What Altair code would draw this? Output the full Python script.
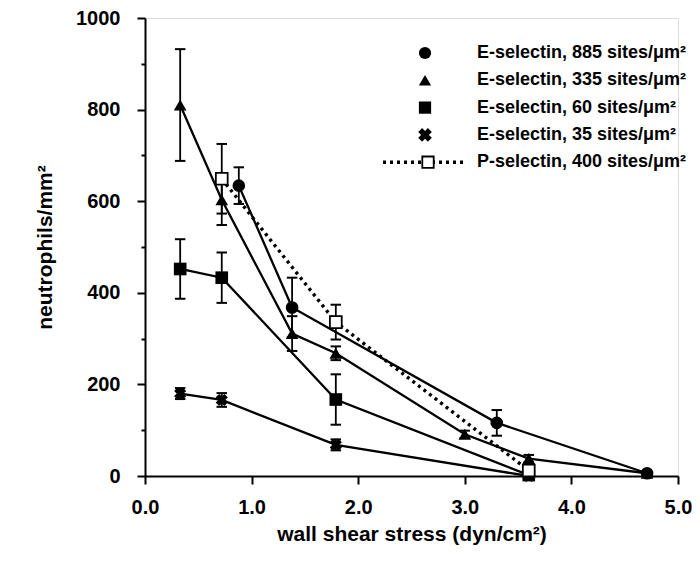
import altair as alt
import pandas as pd

# ---- data ----
series_names = [
    "E-selectin, 885 sites/μm²",
    "E-selectin, 335 sites/μm²",
    "E-selectin, 60 sites/μm²",
    "E-selectin, 35 sites/μm²",
    "P-selectin, 400 sites/μm²",
]
series_shapes = ["circle", "triangle-up", "square", "cross", "square"]

e885_x = [0.88, 1.38, 3.3, 4.71]
e885_y = [634, 368, 116, 6]
e885_err = [40, 65, 28, 0]

e335_x = [0.33, 0.72, 1.38, 1.79, 3.0, 3.6, 4.71]
e335_y = [810, 603, 311, 268, 91, 38, 6]
e335_err = [122, 55, 38, 15, 8, 8, 0]

e60_x = [0.33, 0.72, 1.79, 3.6]
e60_y = [452, 433, 167, 2]
e60_err = [65, 55, 55, 0]

e35_x = [0.33, 0.72, 1.79, 3.6]
e35_y = [180, 166, 68, 0]
e35_err = [12, 15, 12, 0]

p400_x = [0.72, 1.79, 3.6]
p400_y = [649, 336, 12]
p400_err = [76, 38, 0]

x_ticks = [0, 1, 2, 3, 4, 5]
y_ticks = list(range(0, 1001, 100))

rows = []
for name, xs, ys, es in zip(
    series_names,
    [e885_x, e335_x, e60_x, e35_x, p400_x],
    [e885_y, e335_y, e60_y, e35_y, p400_y],
    [e885_err, e335_err, e60_err, e35_err, p400_err],
):
    for x, y, e in zip(xs, ys, es):
        rows.append({"series": name, "x": x, "y": y, "lo": y - e, "hi": y + e, "err": e})
df = pd.DataFrame(rows)

leg = pd.DataFrame({"label": series_names, "row": list(range(len(series_names))),
                    "shape": series_shapes})

FONT = "Liberation Sans"
xscale = alt.Scale(domain=[0, 5], nice=False, zero=False)
yscale = alt.Scale(domain=[0, 1000], nice=False)

X = alt.X("x:Q", scale=xscale, title="wall shear stress (dyn/cm²)",
          axis=alt.Axis(values=x_ticks, format=".1f", grid=False, tickSize=8,
                        tickWidth=2, domainWidth=2, domainColor="black", tickColor="black",
                        labelFont=FONT, labelFontWeight="bold", labelFontSize=20,
                        labelColor="black", labelPadding=13, labelFlush=False,
                        titleFont=FONT, titleFontWeight="bold", titleFontSize=21,
                        titleColor="black", titlePadding=6))
Y = alt.Y("y:Q", scale=yscale, title="neutrophils/mm²",
          axis=alt.Axis(values=y_ticks, grid=False, format="d",
                        labelExpr="datum.value % 200 === 0 ? datum.label : ''",
                        tickSize={"expr": "datum.value % 200 === 0 ? 8 : 4"},
                        tickWidth=2, domainWidth=2, domainColor="black", tickColor="black",
                        labelFont=FONT, labelFontWeight="bold", labelFontSize=20,
                        labelColor="black", labelPadding=17, labelFlush=False,
                        titleFont=FONT, titleFontWeight="bold", titleFontSize=21,
                        titleColor="black", titlePadding=20))

base = alt.Chart(df)
esel = base.transform_filter("indexof(datum.series, 'E-') === 0")
psel = base.transform_filter("indexof(datum.series, 'P-') === 0")
witherr = base.transform_filter("datum.err > 0")

lines = esel.mark_line(color="black", strokeWidth=2.3).encode(x=X, y=Y, detail="series:N")
pline = psel.mark_line(color="black", strokeWidth=3.4, strokeDash=[3, 4]).encode(x=X, y=Y)

ebar = witherr.mark_rule(color="black", strokeWidth=1.8).encode(
    x="x:Q", y="lo:Q", y2="hi:Q")
cap_hi = witherr.mark_point(shape="M-1,0L1,0", filled=False, color="black",
                            strokeWidth=2, size=110, opacity=1).encode(x="x:Q", y="hi:Q")
cap_lo = witherr.mark_point(shape="M-1,0L1,0", filled=False, color="black",
                            strokeWidth=2, size=110, opacity=1).encode(x="x:Q", y="lo:Q")

shape_scale = alt.Scale(domain=series_names[:3], range=series_shapes[:3])
pts = esel.transform_filter("datum.series !== '%s'" % series_names[3]).mark_point(
    filled=True, color="black", size=160, opacity=1).encode(
    x="x:Q", y="y:Q", shape=alt.Shape("series:N", scale=shape_scale, legend=None))
xpts = base.transform_filter("datum.series === '%s'" % series_names[3]).mark_point(
    shape="cross", angle=45, filled=True, color="black", size=150, opacity=1).encode(
    x="x:Q", y="y:Q")
ppts = psel.mark_point(shape="square", filled=False, fill="white", color="black",
                       strokeWidth=1.8, size=140, opacity=1).encode(x="x:Q", y="y:Q")

# ---- custom legend (pixel positions inside plot area) ----
lbase = alt.Chart(leg).transform_calculate(ly="35 + datum.row * 27.3")
ltext = lbase.mark_text(align="left", baseline="middle", font=FONT, fontWeight="bold",
                        fontSize=18, color="black").encode(
    x=alt.value(332), y=alt.Y("ly:Q", scale=None), text="label:N")
lsym = lbase.transform_filter("datum.row < 3").mark_point(
    filled=True, color="black", size=150, opacity=1).encode(
    x=alt.value(280), y=alt.Y("ly:Q", scale=None),
    shape=alt.Shape("label:N", scale=shape_scale, legend=None))
lx = lbase.transform_filter("datum.row === 3").mark_point(
    shape="cross", angle=45, filled=True, color="black", size=190, opacity=1).encode(
    x=alt.value(280), y=alt.Y("ly:Q", scale=None))
ldash = lbase.transform_filter("datum.row === 4").mark_rule(
    color="black", strokeWidth=3.4, strokeDash=[3, 4]).encode(
    x=alt.value(238), x2=alt.value(322), y=alt.Y("ly:Q", scale=None))
lsq = lbase.transform_filter("datum.row === 4").mark_point(
    shape="square", filled=False, fill="white", color="black", strokeWidth=1.8,
    size=130, opacity=1).encode(x=alt.value(283), y=alt.Y("ly:Q", scale=None))

chart = alt.layer(lines, pline, ebar, cap_hi, cap_lo, pts, xpts, ppts,
                  ltext, lsym, lx, ldash, lsq).properties(
    width=533, height=458,
    padding={"left": 137, "top": 10, "right": 14, "bottom": 80},
    autosize=alt.AutoSizeParams(type="none"),
).configure_view(stroke=None).configure(background="white")

chart.save("out.html", embed_options={"renderer": "svg", "actions": False})
